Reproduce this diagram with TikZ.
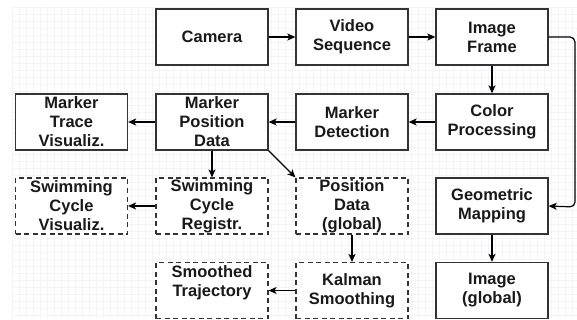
\documentclass[tikz,border=0pt]{standalone}
\usepackage{fontspec}
\setmainfont{Liberation Sans}
\usetikzlibrary{arrows.meta}
\begin{document}
\begin{tikzpicture}[x=1pt,y=-1pt,
  box/.style={draw=black!80,line width=1.3pt,fill=white,minimum width=112pt,minimum height=56pt,
    inner sep=0pt,align=center,font=\fontsize{16.5}{19}\selectfont\bfseries,text=black!90},
  dbox/.style={box,dash pattern=on 5pt off 3.5pt,line width=1.1pt},
  conn/.style={line width=1.2pt,draw=black,-{Stealth[length=8pt,width=7pt,inset=2pt]}},
  gridline/.style={draw=blue!30!gray!7,line width=0.5pt}]
\useasboundingbox (0,0) rectangle (577,320);
\fill[white] (0,0) rectangle (577,320);
% background grid
\foreach \gx in {12,19,...,577} {\draw[gridline] (\gx,7) -- (\gx,318);}
\foreach \gy in {7,14,...,318} {\draw[gridline] (12,\gy) -- (577,\gy);}
% row 1
\node[box] (cam) at (212,37) {Camera};
\node[box] (vid) at (352,37) {Video\\Sequence};
\node[box] (imf) at (492,37) {Image\\Frame};
% row 2
\node[box] (mtv) at (71.5,122) {Marker\\Trace\\Visualiz.};
\node[box] (mpd) at (212,122) {Marker\\Position\\Data};
\node[box] (mdt) at (352,122) {Marker\\Detection};
\node[box] (cpr) at (492,122) {Color\\Processing};
% row 3
\node[dbox] (scv) at (71.5,206) {Swimming\\Cycle\\Visualiz.};
\node[dbox] (scr) at (212,206) {Swimming\\Cycle\\Registr.};
\node[dbox] (pdg) at (352,206) {Position\\Data\\(global)};
\node[box] (geo) at (492,206) {Geometric\\Mapping};
% row 4
\node[dbox] (smt) at (212,290.5) {Smoothed\\Trajectory\\\mbox{}};
\node[dbox] (kal) at (352,290.5) {Kalman\\Smoothing};
\node[box] (img) at (492,290.5) {Image\\(global)};
% connectors
\draw[conn] (cam) -- (vid);
\draw[conn] (vid) -- (imf);
\draw[conn] (imf) -- (cpr);
\draw[conn] (cpr) -- (mdt);
\draw[conn] (mdt) -- (mpd);
\draw[conn] (mpd) -- (mtv);
\draw[conn] (mpd) -- (scr);
\draw[conn] (mpd.south east) -- (pdg.north west);
\draw[conn] (scr) -- (scv);
\draw[conn] (pdg) -- (kal);
\draw[conn] (kal) -- (smt);
\coordinate (r1) at (575,37);
\coordinate (r2) at (575,207);
\draw[conn,rounded corners=5pt] (imf.east) -- (r1) -- (r2) -- (geo.east);
\draw[conn] (geo) -- (img);
\end{tikzpicture}
\end{document}
